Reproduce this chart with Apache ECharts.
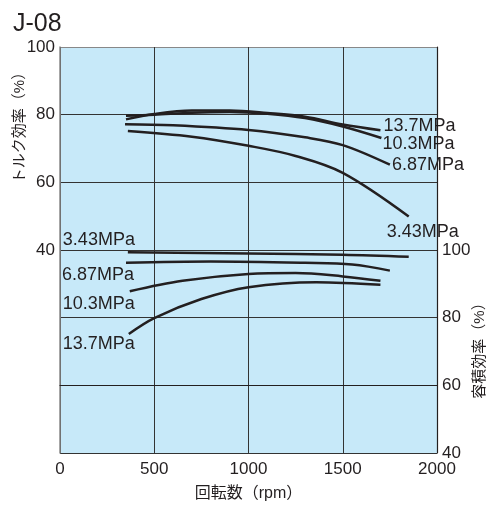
<!DOCTYPE html>
<html lang="ja">
<head>
    <meta charset="UTF-8">
    <title>J-08</title>
    <script src="https://cdn.jsdelivr.net/npm/echarts@6/dist/echarts.min.js"></script>
    <style>
        html, body { margin: 0; padding: 0; background: #fff; }
        #chart { width: 490px; height: 507px; }
    </style>
</head>
<body>
<div id="chart"></div>

<script>
    // 回転数 [rpm] と効率 [%] の組
    var pressures = ['13.7MPa', '10.3MPa', '6.87MPa', '3.43MPa'];

    // トルク効率（左軸）
    var torque137 = [[350, 78.6], [500, 80.2], [700, 81.2], [900, 81.2], [1100, 80.5], [1300, 79.4], [1500, 77.1], [1700, 75.4]];
    var torque103 = [[350, 79.7], [500, 80.0], [700, 80.6], [900, 80.8], [1100, 80.3], [1300, 79.0], [1500, 76.5], [1705, 73.1]];
    var torque687 = [[345, 77.2], [600, 76.9], [1000, 75.5], [1300, 73.3], [1500, 71.0], [1750, 65.2]];
    var torque343 = [[360, 75.2], [700, 73.5], [1000, 70.8], [1250, 67.8], [1500, 62.8], [1850, 49.9]];

    // 容積効率（右軸）
    var vol343 = [[360, 99.3], [1000, 99.0], [1500, 98.6], [1850, 98.0]];
    var vol687 = [[350, 96.2], [800, 96.6], [1300, 96.2], [1550, 95.7], [1750, 93.9]];
    var vol103 = [[370, 87.8], [650, 90.9], [1000, 92.9], [1250, 93.2], [1500, 92.2], [1700, 90.9]];
    var vol137 = [[365, 75.2], [500, 79.9], [750, 85.5], [1000, 89.0], [1360, 90.5], [1700, 89.7]];

    var ink = '#231f20';
    var font = "'Liberation Sans', 'Noto Sans CJK JP', sans-serif";

    // 線の端にラベルを付ける
    function withLabel(data, idx, text, offset) {
        return data.map(function (p, i) {
            if (i !== idx) return p;
            return {
                value: p,
                label: {
                    show: true,
                    position: 'inside',
                    align: 'left',
                    verticalAlign: 'middle',
                    offset: offset,
                    formatter: text,
                    color: ink,
                    fontSize: 18,
                    fontFamily: font
                }
            };
        });
    }

    function curve(name, data, axis) {
        return {
            name: name,
            type: 'line',
            yAxisIndex: axis,
            smooth: 0.35,
            showSymbol: true,
            symbol: 'circle',
            symbolSize: 0,
            itemStyle: { color: ink },
            lineStyle: { color: ink, width: 2.5 },
            silent: true,
            data: data
        };
    }

    var chart = echarts.init(document.getElementById('chart'));

    var option = {
        animation: false,
        backgroundColor: '#fff',
        title: {
            text: 'J-08',
            left: 8,
            top: 7,
            textStyle: { fontSize: 25, fontWeight: 'normal', color: ink, fontFamily: font }
        },
        grid: {
            left: 60, right: 53, top: 47, bottom: 53,
            show: true,
            backgroundColor: '#c7e9f9',
            borderWidth: 0
        },
        xAxis: {
            type: 'value',
            min: 0, max: 2000, interval: 500,
            name: '回転数（rpm）',
            nameLocation: 'middle',
            nameGap: 33,
            nameTextStyle: { fontSize: 16, color: ink, fontFamily: font },
            axisLine: { lineStyle: { color: ink, width: 1.2 } },
            axisTick: { show: false },
            axisLabel: {
                fontSize: 17, color: ink, margin: 8, fontFamily: font,
                formatter: function (v) { return String(v); }
            },
            splitLine: { lineStyle: { color: '#333', width: 1 } }
        },
        yAxis: [
            {
                type: 'value',
                min: -20, max: 100, interval: 20,
                axisLine: { show: true, lineStyle: { color: '#888', width: 1.5 } },
                axisTick: { show: false },
                axisLabel: {
                    fontSize: 17, color: ink, margin: 5, fontFamily: font,
                    formatter: function (v) { return v >= 40 ? String(v) : ''; }
                },
                splitLine: {
                    lineStyle: {
                        color: ['#333', '#333', '#333', '#333', '#333', '#333', '#888'],
                        width: 1
                    }
                }
            },
            {
                type: 'value',
                min: 40, max: 160, interval: 20,
                position: 'right',
                axisLine: { show: true, lineStyle: { color: ink, width: 1.2 } },
                axisTick: { show: false },
                axisLabel: {
                    fontSize: 17, color: ink, margin: 5, fontFamily: font,
                    formatter: function (v) { return v <= 100 ? String(v) : ''; }
                },
                splitLine: { show: false }
            }
        ],
        graphic: [
            {
                type: 'text', x: 20, y: 124, rotation: Math.PI / 2,
                style: { text: 'トルク効率（%）', fontSize: 15, fill: ink, fontFamily: font, align: 'center', verticalAlign: 'middle' }
            },
            {
                type: 'text', x: 480, y: 347, rotation: Math.PI / 2,
                style: { text: '容積効率（%）', fontSize: 15, fill: ink, fontFamily: font, align: 'center', verticalAlign: 'middle' }
            }
        ],
        series: [
            curve('T ' + pressures[0], withLabel(torque137, torque137.length - 1, pressures[0], [3, -4]), 0),
            curve('T ' + pressures[1], withLabel(torque103, torque103.length - 1, pressures[1], [1, 6]), 0),
            curve('T ' + pressures[2], withLabel(torque687, torque687.length - 1, pressures[2], [2, 0]), 0),
            curve('T ' + pressures[3], withLabel(torque343, torque343.length - 1, pressures[3], [-22, 16]), 0),
            curve('V ' + pressures[3], withLabel(vol343, 0, pressures[3], [-65, -12]), 1),
            curve('V ' + pressures[2], withLabel(vol687, 0, pressures[2], [-64, 12]), 1),
            curve('V ' + pressures[1], withLabel(vol103, 0, pressures[1], [-67, 13]), 1),
            curve('V ' + pressures[0], withLabel(vol137, 0, pressures[0], [-66, 10]), 1)
        ]
    };

    chart.setOption(option);
</script>

</body>
</html>
